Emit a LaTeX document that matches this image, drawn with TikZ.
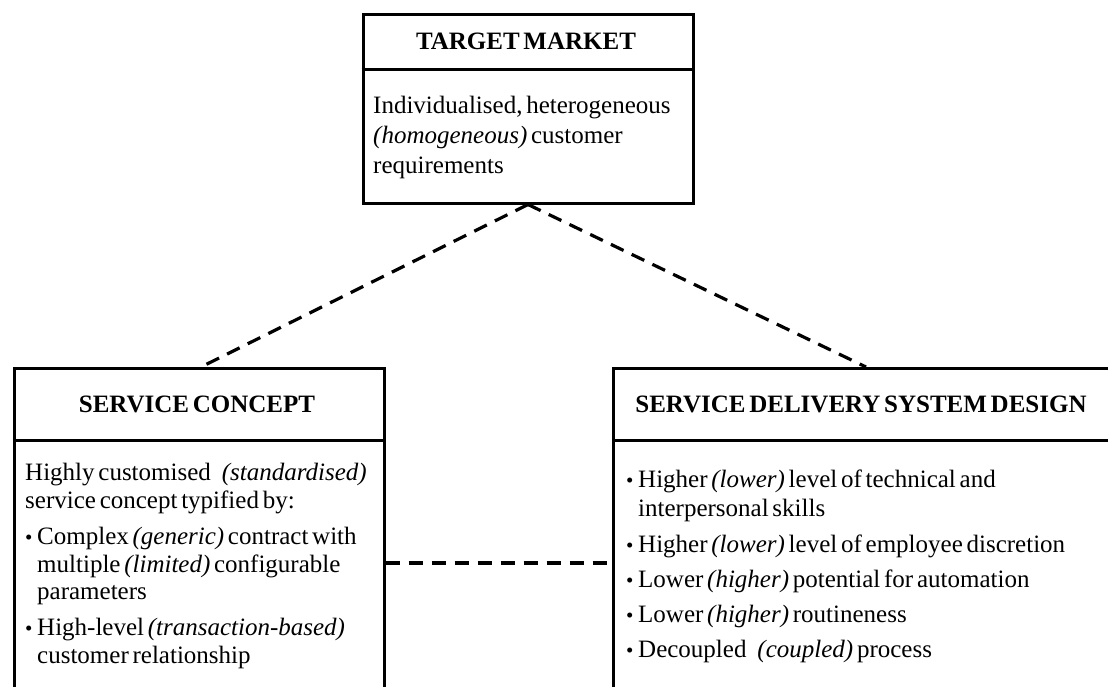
\documentclass[tikz,border=0pt]{standalone}
\usepackage{fontspec}
\setmainfont{Liberation Serif}[WordSpace=0.6]
\usetikzlibrary{calc}
\begin{document}
\begin{tikzpicture}[x=1pt,y=-1pt,
  box/.style={draw, line width=3pt, rectangle, inner sep=0pt, anchor=north west},
  divider/.style={line width=3pt},
  conn/.style={line width=3.2pt, dash pattern=on 14pt off 9pt},
  head/.style={inner sep=0pt, anchor=base, font=\fontsize{25}{29}\selectfont\bfseries},
  body/.style={inner sep=0pt, anchor=base west, font=\fontsize{25}{29}\selectfont},
  bul/.style={inner sep=0pt, anchor=base west, font=\fontsize{21}{24}\selectfont}
]
\path[use as bounding box] (0,0) rectangle (1108,686);
\clip (0,0) rectangle (1108,686);

% boxes
\node[box, minimum width=330pt, minimum height=188.5pt] (tm) at (361.5,13) {};
\node[box, minimum width=370pt, minimum height=340pt] (sc) at (12.5,367) {};
\node[box, minimum width=530pt, minimum height=340pt] (sd) at (612,367) {};

% dividers
\coordinate (tmdiv) at (0,69.5);
\coordinate (lowdiv) at (0,440);
\draw[divider] (tm.west |- tmdiv) -- (tm.east |- tmdiv);
\draw[divider] (sc.west |- lowdiv) -- (sc.east |- lowdiv);
\draw[divider] (sd.west |- lowdiv) -- (sd.east |- lowdiv);

% target market text
\node[head] (tmh) at (526,49) {TARGET MARKET};
\node[body] (tm1) at (373,113) {Individualised, heterogeneous};
\node[body] (tm2) at (373,143) {\textit{(homogeneous)} customer};
\node[body] (tm3) at (373,173) {requirements};

% service concept text
\node[head] (sch) at (197,412) {SERVICE CONCEPT};
\node[body] (sc1) at (25,480) {Highly customised\hspace{11pt}\textit{(standardised)}};
\node[body] (sc2) at (25,508) {service concept typified by:};
\node[bul] (scb1) at (25,544) {•};
\node[body] (sc3) at (37,544) {Complex \textit{(generic)} contract with};
\node[body] (sc4) at (37,572) {multiple \textit{(limited)} configurable};
\node[body] (sc5) at (37,599) {parameters};
\node[bul] (scb2) at (25,635) {•};
\node[body] (sc6) at (37,635) {High-level \textit{(transaction-based)}};
\node[body] (sc7) at (37,663) {customer relationship};

% delivery system text
\node[head] (sdh) at (861,412) {SERVICE DELIVERY SYSTEM DESIGN};
\node[bul] (sdb1) at (626,487) {•};
\node[body] (sd1) at (638,487) {Higher \textit{(lower)} level of technical and};
\node[body] (sd2) at (638,516) {interpersonal skills};
\node[bul] (sdb2) at (626,552) {•};
\node[body] (sd3) at (638,552) {Higher \textit{(lower)} level of employee discretion};
\node[bul] (sdb3) at (626,587) {•};
\node[body] (sd4) at (638,587) {Lower \textit{(higher)} potential for automation};
\node[bul] (sdb4) at (626,622) {•};
\node[body] (sd5) at (638,622) {Lower \textit{(higher)} routineness};
\node[bul] (sdb5) at (626,657) {•};
\node[body] (sd6) at (638,657) {Decoupled\hspace{11pt}\textit{(coupled)} process};

% connectors
\coordinate (scTop) at ($(sc.north west)+(188.5,0)$);
\coordinate (sdTop) at ($(sd.north west)+(254,0)$);
\coordinate (hline) at (0,563);
\draw[conn] (tm.south) -- (scTop);
\draw[conn] (tm.south) -- (sdTop);
\draw[conn] (sc.east |- hline) -- (sd.west |- hline);
\end{tikzpicture}
\end{document}
